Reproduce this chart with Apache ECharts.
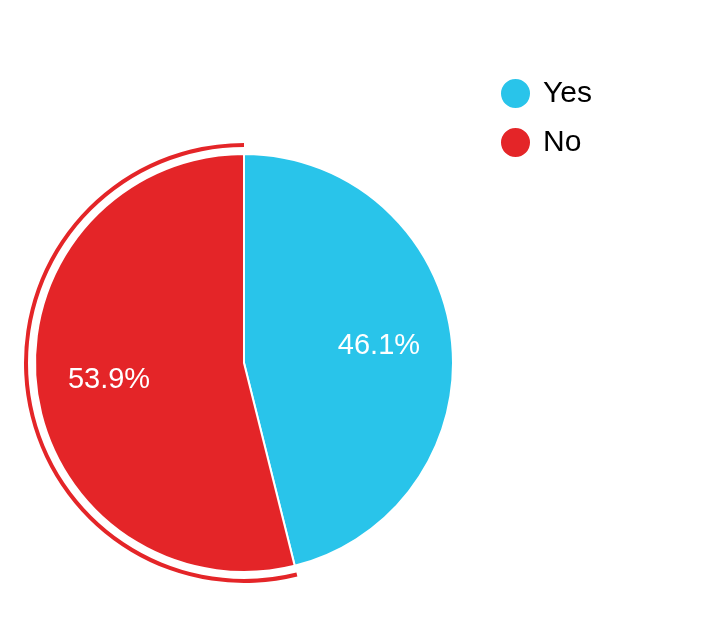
<!DOCTYPE html>
<html>
<head>
<meta charset="utf-8">
<script src="https://cdn.jsdelivr.net/npm/echarts@6/dist/echarts.min.js"></script>
<style>
  html, body { margin: 0; padding: 0; background: #fff; }
  #chart { width: 708px; height: 620px; }
</style>
</head>
<body>
<div id="chart"></div>
<script>
// data
const categories = ['Yes', 'No'];
const shares = [46.1, 53.9];
const colors = ['#29C4EA', '#E42528'];
// slice that gets the outer highlight ring
const ringed = ['No'];

const chart = echarts.init(document.getElementById('chart'), null, { renderer: 'canvas' });

const pieData = categories.map((name, i) => ({
    name,
    value: shares[i],
    itemStyle: { color: colors[i] }
}));

const ringData = categories.map((name, i) => ({
    name,
    value: shares[i],
    itemStyle: { color: ringed.includes(name) ? colors[i] : 'rgba(0,0,0,0)' }
}));

const labelData = categories.map((name, i) => ({
    name,
    value: shares[i],
    itemStyle: { color: 'rgba(0,0,0,0)' }
}));

const center = [244, 363];
const common = {
    type: 'pie',
    center,
    startAngle: 90,
    clockwise: true,
    animation: false,
    emphasis: { disabled: true },
    labelLine: { show: false }
};

chart.setOption({
    textStyle: { fontFamily: 'Liberation Sans, Arial, sans-serif' },
    legend: {
        orient: 'vertical',
        left: 494,
        top: 72,
        icon: 'circle',
        itemWidth: 31,
        itemHeight: 31,
        itemGap: 16,
        selectedMode: false,
        data: categories.map((name, i) => ({ name, itemStyle: { color: colors[i] } })),
        textStyle: { fontSize: 30, lineHeight: 31, color: '#000', padding: [0, 0, 0, 7] }
    },
    series: [
        {
            ...common,
            name: 'main',
            radius: [0, 209],
            itemStyle: { borderColor: '#fff', borderWidth: 2 },
            label: { show: false },
            data: pieData
        },
        {
            ...common,
            name: 'ring',
            silent: true,
            radius: [216, 220],
            label: { show: false },
            data: ringData
        },
        {
            ...common,
            name: 'labels',
            silent: true,
            radius: [0, 266],
            label: {
                show: true,
                position: 'inside',
                color: '#fff',
                fontSize: 29,
                formatter: p => p.value.toFixed(1) + '%'
            },
            data: labelData
        }
    ]
});
</script>
</body>
</html>
